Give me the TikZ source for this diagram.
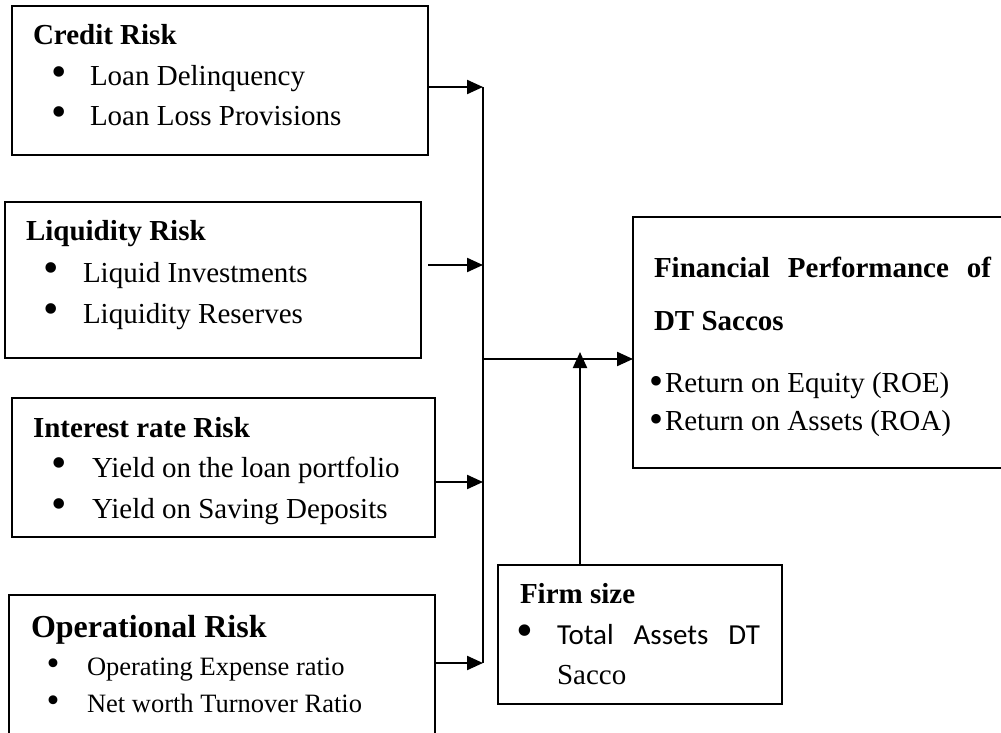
\documentclass[tikz,border=0pt]{standalone}
\usepackage{fontspec}
\setmainfont{Liberation Serif}
\newfontfamily\calfont{Carlito}
\usetikzlibrary{arrows.meta}
\begin{document}
\begin{tikzpicture}[x=1pt,y=-1pt,
  box/.style={draw, line width=1.6pt, anchor=north west, inner sep=0pt, outer sep=0pt},
  txt/.style={anchor=base west, inner sep=0pt, outer sep=0pt, font=\fontsize{29}{34}\selectfont},
  ttl/.style={anchor=base west, inner sep=0pt, outer sep=0pt, font=\fontsize{29}{34}\selectfont\bfseries},
  bul/.style={anchor=center, inner sep=0pt, outer sep=0pt, font=\fontsize{44}{44}\selectfont},
  conn/.style={line width=2.2pt},
  arr/.style={line width=2.2pt, -{Triangle[length=16pt,width=14pt]}}]
\useasboundingbox (0,0) rectangle (1001,733);
\clip (0,0) rectangle (1001,733);
% boxes
\node[box, minimum width=416pt, minimum height=149pt] (credit) at (12,6) {};
\node[box, minimum width=416pt, minimum height=156pt] (liq) at (5,202) {};
\node[box, minimum width=423pt, minimum height=139pt] (int) at (12,398) {};
\node[box, minimum width=426pt, minimum height=160pt] (op) at (9,595) {};
\node[box, minimum width=390pt, minimum height=251pt] (fin) at (633,217) {};
\node[box, minimum width=284pt, minimum height=139pt] (firm) at (498,565) {};
% credit texts
\node[ttl] (ct) at (33,45) {Credit Risk};
\node[bul] (cb1) at (59,77) {\textbullet};
\node[txt] (c1) at (90,86) {Loan Delinquency};
\node[bul] (cb2) at (59,117) {\textbullet};
\node[txt] (c2) at (90,126) {Loan Loss Provisions};
% liquidity texts
\node[ttl] (lt) at (26,240) {Liquidity Risk};
\node[bul] (lb1) at (51,273) {\textbullet};
\node[txt] (l1) at (83,282) {Liquid Investments};
\node[bul] (lb2) at (51,314) {\textbullet};
\node[txt] (l2) at (83,323) {Liquidity Reserves};
% interest texts
\node[ttl] (it) at (33,437) {Interest rate Risk};
\node[bul] (ib1) at (59,468) {\textbullet};
\node[txt] (i1) at (92,477) {Yield on the loan portfolio};
\node[bul] (ib2) at (59,509) {\textbullet};
\node[txt] (i2) at (92,518) {Yield on Saving Deposits};
% operational texts
\node[ttl, font=\fontsize{32}{38}\selectfont\bfseries] (ot) at (31,637) {Operational Risk};
\node[bul, font=\fontsize{37}{37}\selectfont] (ob1) at (53,667) {\textbullet};
\node[txt, font=\fontsize{26.5}{31}\selectfont] (o1) at (87,675) {Operating Expense ratio};
\node[bul, font=\fontsize{37}{37}\selectfont] (ob2) at (53,704) {\textbullet};
\node[txt, font=\fontsize{26.5}{31}\selectfont] (o2) at (87,712) {Net worth Turnover Ratio};
% financial texts
\node[ttl] (ft1) at (654,277) {\makebox[337pt][s]{Financial\hfill Performance\hfill of}};
\node[ttl] (ft2) at (654,330) {DT Saccos};
\node[bul, font=\fontsize{40}{40}\selectfont] (fb1) at (656,385) {\textbullet};
\node[txt] (f1) at (665,392) {Return on Equity (ROE)};
\node[bul, font=\fontsize{40}{40}\selectfont] (fb2) at (656,423) {\textbullet};
\node[txt] (f2) at (665,430) {Return on Assets (ROA)};
% firm size texts
\node[ttl] (st) at (520,603) {Firm size};
\node[bul, font=\fontsize{48}{48}\selectfont] (sb1) at (525,636) {\textbullet};
\node[txt] (s1) at (557,644) {\calfont\makebox[203pt][s]{Total\hfill Assets\hfill DT}};
\node[txt] (s2) at (557,684) {Sacco};
% connectors
\coordinate (j1) at (483,87);
\coordinate (j2) at (483,265);
\coordinate (j3) at (483,482);
\coordinate (j4) at (483,663);
\coordinate (l0) at (428,265);
\coordinate (bus) at (483,359);
\coordinate (up) at (580,352);
\draw[conn] (j1) -- (j4);
\draw[arr] (credit.east |- j1) -- (j1);
\draw[arr] (l0) -- (j2);
\draw[arr] (int.east |- j3) -- (j3);
\draw[arr] (op.east |- j4) -- (j4);
\draw[arr] (bus) -- (fin.west |- bus);
\draw[arr] (firm.north -| up) -- (up);
\end{tikzpicture}
\end{document}
